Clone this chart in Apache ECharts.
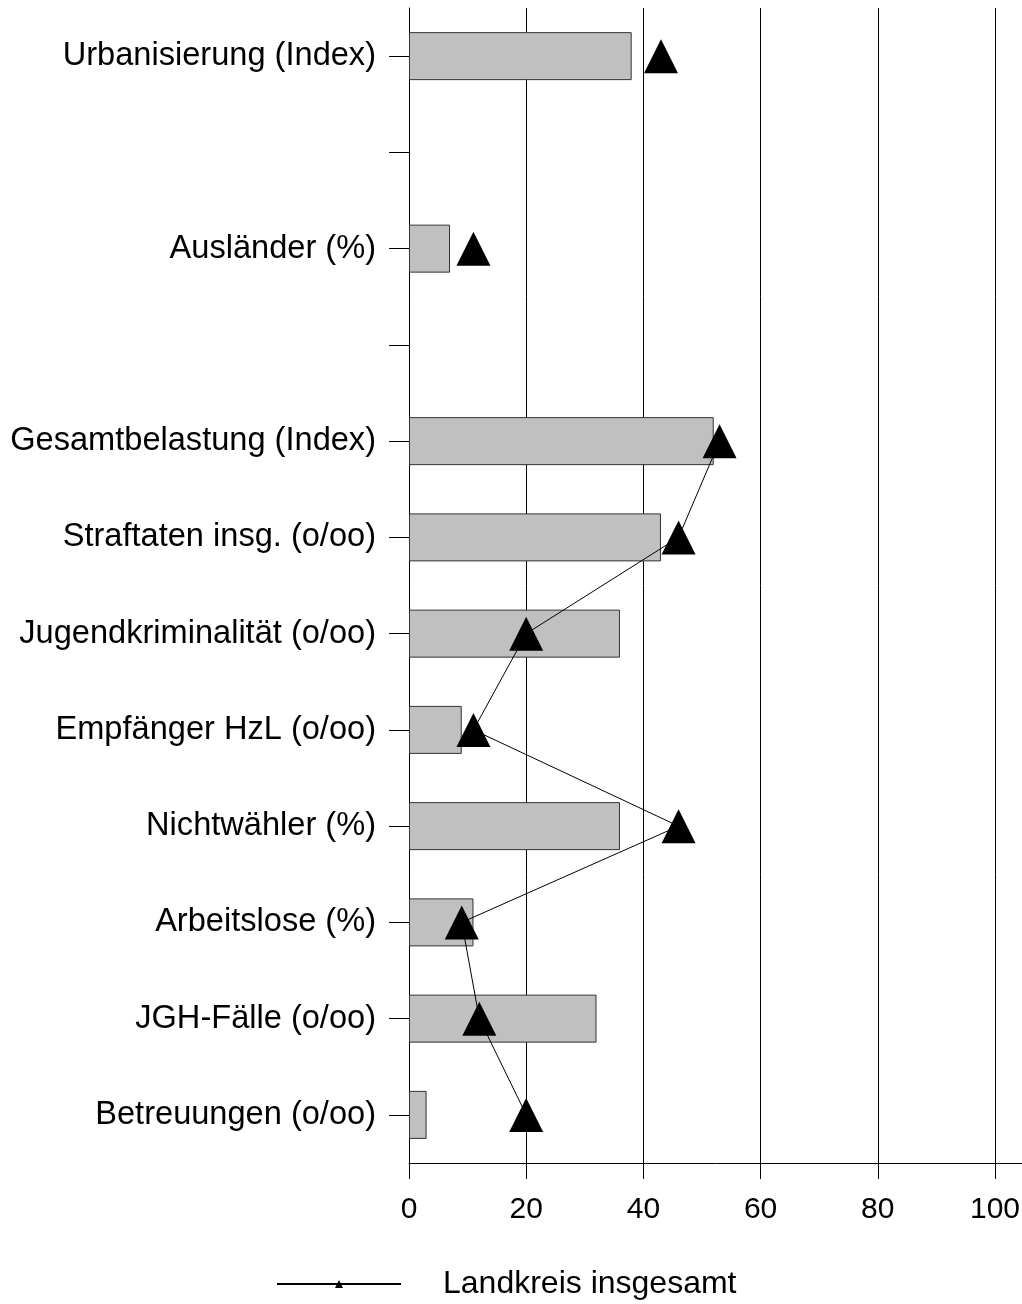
<!DOCTYPE html>
<html>
<head>
<meta charset="utf-8">
<script src="https://cdn.jsdelivr.net/npm/echarts@6/dist/echarts.min.js"></script>
<style>
html,body{margin:0;padding:0;background:#fff;overflow:hidden;width:1022px;height:1304px;}
#chart{width:1040px;height:1304px;}
</style>
</head>
<body>
<div id="chart"></div>
<script>
const categories = [
  'Urbanisierung (Index)', '', 'Ausländer (%)', '',
  'Gesamtbelastung (Index)', 'Straftaten insg. (o/oo)', 'Jugendkriminalität (o/oo)',
  'Empfänger HzL (o/oo)', 'Nichtwähler (%)', 'Arbeitslose (%)', 'JGH-Fälle (o/oo)', 'Betreuungen (o/oo)'
];
const barValues = [38, null, 7, null, 52, 43, 36, 9, 36, 11, 32, 3];
const landkreisValues = [43, null, 11, null, 53, 46, 20, 11, 46, 9, 12, 20];
const xTicks = [0, 20, 40, 60, 80, 100];
const seriesName = 'Landkreis insgesamt';

const FONT = '"Liberation Sans", Arial, sans-serif';
const chart = echarts.init(document.getElementById('chart'), null, {renderer: 'canvas'});
chart.setOption({
  animation: false,
  backgroundColor: '#fff',
  grid: {left: 409, right: 15.7, top: 8, bottom: 141, containLabel: false, outerBoundsMode: 'none'},
  legend: {
    data: [seriesName],
    left: 271,
    top: 1263,
    itemWidth: 124,
    itemHeight: 10,
    itemGap: 0,
    textStyle: {fontFamily: FONT, fontSize: 32, color: '#000', padding: [0, 0, 0, 37]}
  },
  xAxis: {
    type: 'value',
    min: 0,
    max: 105,
    interval: 20,
    axisLine: {show: true, lineStyle: {color: '#000', width: 1}},
    axisTick: {show: true, inside: false, length: 16, lineStyle: {color: '#000', width: 1}},
    axisLabel: {
      show: true, fontFamily: FONT, fontSize: 30, color: '#000', margin: 32,
      showMaxLabel: false,
      formatter: v => (xTicks.indexOf(v) >= 0 ? String(v) : '')
    },
    splitLine: {show: true, lineStyle: {color: '#000', width: 1}}
  },
  yAxis: {
    type: 'category',
    inverse: true,
    data: categories,
    boundaryGap: true,
    axisLine: {show: true, lineStyle: {color: '#000', width: 1}},
    axisTick: {show: true, alignWithLabel: true, inside: false, length: 20, interval: 0, lineStyle: {color: '#000', width: 1}},
    axisLabel: {show: true, interval: 0, fontFamily: FONT, fontSize: 32.6, color: '#000', margin: 33},
    splitLine: {show: false}
  },
  series: [
    {
      name: 'Gebiet',
      type: 'bar',
      data: barValues,
      barWidth: 48,
      itemStyle: {color: '#c0c0c0', borderColor: '#333', borderWidth: 1},
      z: 2
    },
    {
      name: seriesName,
      type: 'line',
      data: landkreisValues,
      connectNulls: false,
      symbol: 'triangle',
      symbolSize: [34, 34],
      showAllSymbol: true,
      lineStyle: {color: '#000', width: 1},
      itemStyle: {color: '#000'},
      z: 3
    }
  ]
});
</script>
</body>
</html>
